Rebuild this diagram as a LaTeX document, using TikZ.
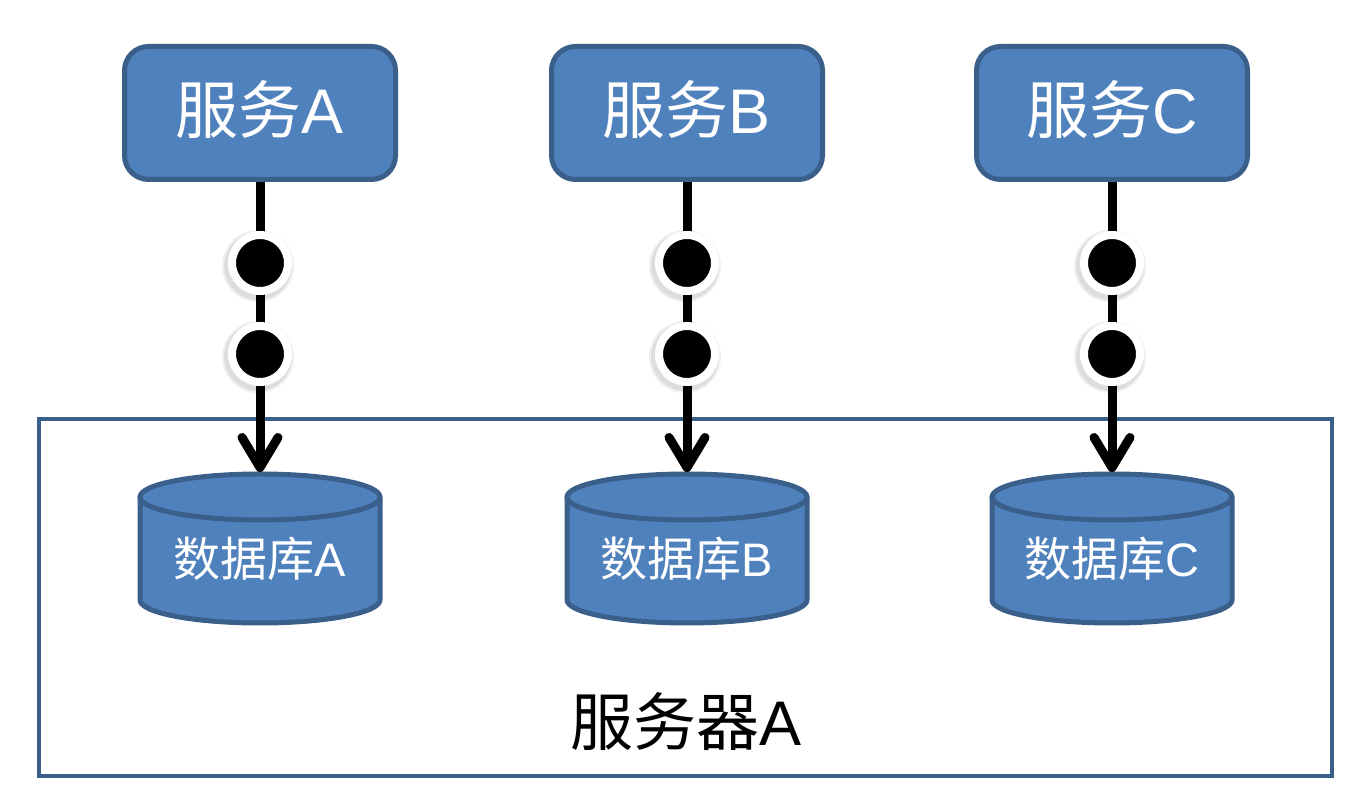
\documentclass[tikz,border=0pt]{standalone}
\usepackage{fontspec}
\setmainfont{Liberation Sans}
\newfontfamily\cjk{Noto Sans CJK SC}
\usetikzlibrary{arrows.meta,calc}
\definecolor{boxfill}{HTML}{4F81BD}
\definecolor{boxline}{HTML}{3A5F8B}
\newcommand\mydb[3]{%
  \fill[boxfill] (#2-120,305) -- (#2-120,202) arc[start angle=180,end angle=360,x radius=120,y radius=23] -- (#2+120,305) arc[start angle=0,end angle=180,x radius=120,y radius=23] -- cycle;
  \draw[boxline,line width=5pt,line join=round] (#2-120,305) -- (#2-120,202) arc[start angle=180,end angle=360,x radius=120,y radius=23] -- (#2+120,305);
  \draw[boxline,line width=5pt] (#2,305) ellipse[x radius=120,y radius=23];
  \node[dbtext] (#1) at (#2,243) {#3};
  \coordinate (#1top) at (#2,330);
}
\newcommand\mydot[3]{%
  \fill[black,opacity=0.06] (#2-2,#3-3) circle (36);
  \fill[black,opacity=0.08] (#2-2,#3-3) circle (34);
  \node[dotnode] (#1) at (#2,#3) {};
}
\begin{document}
\begin{tikzpicture}[x=1pt,y=1pt,
  svc/.style={draw=boxline, fill=boxfill, line width=5pt, rounded corners=24pt,
    minimum width=271pt, minimum height=133pt, text=white,
    font=\fontsize{63}{70}\selectfont, inner sep=0pt},
  svctext/.style={text=white, font=\fontsize{63}{70}\selectfont, inner sep=0pt},
  dbtext/.style={text=white, font=\fontsize{47}{52}\selectfont, inner sep=0pt},
  dotnode/.style={circle, fill=black, draw=white, line width=8pt, minimum size=56pt, inner sep=0pt},
  conn/.style={line width=9pt, -{Straight Barb[length=30pt,width=36pt,round]}},
  frame/.style={draw=boxline, line width=4.5pt, minimum width=1293pt, minimum height=357pt, inner sep=0pt},
  biglabel/.style={text=black, font=\fontsize{63}{70}\selectfont, inner sep=0pt}]
\useasboundingbox (0,0) rectangle (1362,802);
% server frame
\node[frame] (server) at (685.5,204.5) {};
\node[biglabel] (serverlabel) at (686,80) {{\cjk 服务器}A};
% services
\node[svc] (sA) at (260,689) {};
\node[svc] (sB) at (687,689) {};
\node[svc] (sC) at (1112,689) {};
\node[svctext] (tA) at (260,692) {{\cjk 服务}A};
\node[svctext] (tB) at (687,692) {{\cjk 服务}B};
\node[svctext] (tC) at (1112,692) {{\cjk 服务}C};
% databases
\mydb{dbA}{260}{{\cjk 数据库}A}
\mydb{dbB}{687}{{\cjk 数据库}B}
\mydb{dbC}{1112}{{\cjk 数据库}C}
% connectors
\draw[conn] (sA.south) -- (dbAtop);
\draw[conn] (sB.south) -- (dbBtop);
\draw[conn] (sC.south) -- (dbCtop);
% dots
\mydot{a1}{260}{539}
\mydot{a2}{260}{448}
\mydot{b1}{687}{539}
\mydot{b2}{687}{448}
\mydot{c1}{1112}{539}
\mydot{c2}{1112}{448}
\end{tikzpicture}
\end{document}
